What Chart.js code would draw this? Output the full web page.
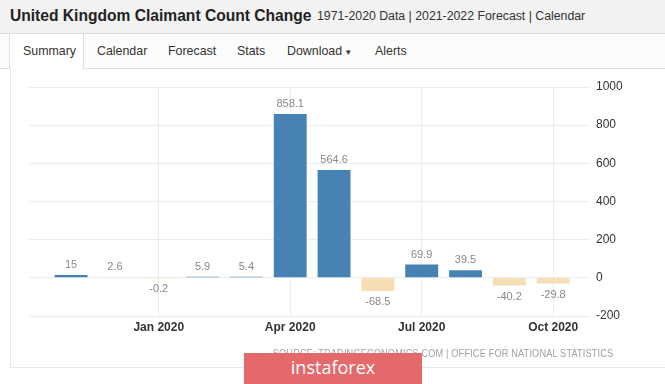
<!DOCTYPE html>
<html>
<head>
<meta charset="utf-8">
<script src="https://cdn.jsdelivr.net/npm/chart.js@4/dist/chart.umd.min.js"></script>
<style>
  html, body { margin:0; padding:0; background:#fff; }
  body { width:665px; height:384px; position:relative; overflow:hidden; font-family:"Liberation Sans", Arial, sans-serif; }
  #header { position:absolute; left:0; top:0; width:665px; height:33px; background:#f2f2f2; border-bottom:1px solid #dcdcdc; }
  #title { position:absolute; left:10px; top:7px; font-weight:bold; font-size:15.6px; color:#222; white-space:nowrap; }
  #subtitle { position:absolute; left:317px; top:9px; font-size:12.3px; color:#333; white-space:nowrap; }
  #tabs { position:absolute; left:0; top:34px; width:665px; height:34px; background:#fcfcfc; border-bottom:1px solid #dcdcdc; }
  .tab { position:absolute; top:10px; font-size:12.4px; color:#333; white-space:nowrap; }
  #active { position:absolute; left:9px; top:0; width:73px; height:35px; background:#fff; border-left:1px solid #dcdcdc; border-right:1px solid #dcdcdc; }
  #panel { position:absolute; left:10px; top:69px; width:660px; height:298px; border-left:1px solid #e6e6e6; border-bottom:1px solid #e6e6e6; background:#fff; }
  #chartwrap { position:absolute; left:10px; top:70px; width:655px; height:296px; }
  #source { position:absolute; right:52px; top:347px; font-size:11.2px; color:#a0a0a0; white-space:nowrap; letter-spacing:0.2px; transform:scaleX(0.82); transform-origin:right center; }
  #wm { position:absolute; left:244px; top:353px; width:178px; height:31px; background:#e4696b; color:#fff; text-align:center; font-family:"Open Sans", sans-serif; font-size:18px; line-height:29px; }
</style>
</head>
<body>
<div id="header">
  <div id="title">United Kingdom Claimant Count Change</div>
  <div id="subtitle">1971-2020 Data | 2021-2022 Forecast | Calendar</div>
</div>
<div id="tabs">
  <div id="active"></div>
  <div class="tab" style="left:23px">Summary</div>
  <div class="tab" style="left:97px">Calendar</div>
  <div class="tab" style="left:168px">Forecast</div>
  <div class="tab" style="left:237px">Stats</div>
  <div class="tab" style="left:287px">Download <span style="font-size:9px">&#9662;</span></div>
  <div class="tab" style="left:375px">Alerts</div>
</div>
<div id="panel"></div>
<div id="chartwrap"><canvas id="c"></canvas></div>
<div id="source">SOURCE: TRADINGECONOMICS.COM | OFFICE FOR NATIONAL STATISTICS</div>
<div id="wm">instaforex</div>
<script>
const months = ['Nov 2019','Dec 2019','Jan 2020','Feb 2020','Mar 2020','Apr 2020','May 2020','Jun 2020','Jul 2020','Aug 2020','Sep 2020','Oct 2020'];
const values = [15, 2.6, -0.2, 5.9, 5.4, 858.1, 564.6, -68.5, 69.9, 39.5, -40.2, -29.8];
const valueLabels = ['15','2.6','-0.2','5.9','5.4','858.1','564.6','-68.5','69.9','39.5','-40.2','-29.8'];
const xTickLabels = ['Jan 2020','Apr 2020','Jul 2020','Oct 2020'];
const yTicks = [-200, 0, 200, 400, 600, 800, 1000];

const xTickIndex = xTickLabels.map(l => months.indexOf(l));
const posColor = '#4682b4', negColor = '#f5deb3';

const labelPlugin = {
  id: 'valueLabels',
  afterDatasetsDraw(chart) {
    const ctx = chart.ctx;
    const meta = chart.getDatasetMeta(0);
    ctx.save();
    ctx.font = '11px "Liberation Sans", Arial, sans-serif';
    ctx.fillStyle = '#888';
    ctx.textAlign = 'center';
    ctx.textBaseline = 'middle';
    meta.data.forEach((bar, i) => {
      const v = values[i];
      const y = v >= 0 ? bar.y - 10 : bar.y + 11;
      ctx.fillText(valueLabels[i], bar.x, y);
    });
    ctx.restore();
  }
};

new Chart(document.getElementById('c'), {
  type: 'bar',
  data: {
    datasets: [{
      data: values.map((v, i) => ({x: i, y: v})),
      backgroundColor: values.map(v => v >= 0 ? posColor : negColor),
      barPercentage: 0.75,
      categoryPercentage: 1.0,
      borderWidth: 0
    }]
  },
  options: {
    responsive: true,
    maintainAspectRatio: false,
    animation: false,
    layout: { padding: { left: 19, top: 17, right: 0, bottom: 0 } },
    plugins: { legend: { display: false }, tooltip: { enabled: false } },
    scales: {
      x: {
        type: 'linear',
        offset: false,
        min: -0.96,
        max: 11.84,
        afterBuildTicks(scale) { scale.ticks = xTickIndex.map(v => ({value: v})); },
        afterFit(scale) { scale.height = 50; },
        ticks: {
          autoSkip: false,
          maxRotation: 0,
          padding: 4,
          color: '#333',
          font: { family: '"Liberation Sans", Arial, sans-serif', size: 12, weight: 'bold' },
          callback: (v) => months[v]
        },
        grid: { color: '#ececec', drawTicks: false, offset: false },
        border: { display: false }
      },
      y: {
        position: 'right',
        min: -200,
        max: 1000,
        afterBuildTicks(scale) { scale.ticks = yTicks.map(v => ({value: v})); },
        afterFit(scale) { scale.width = 75; },
        ticks: {
          padding: 6,
          color: '#333',
          font: { family: '"Liberation Sans", Arial, sans-serif', size: 12 },
          callback: (v) => String(v)
        },
        grid: { color: '#ececec', drawTicks: false },
        border: { display: false }
      }
    }
  },
  plugins: [labelPlugin]
});
</script>
</body>
</html>
